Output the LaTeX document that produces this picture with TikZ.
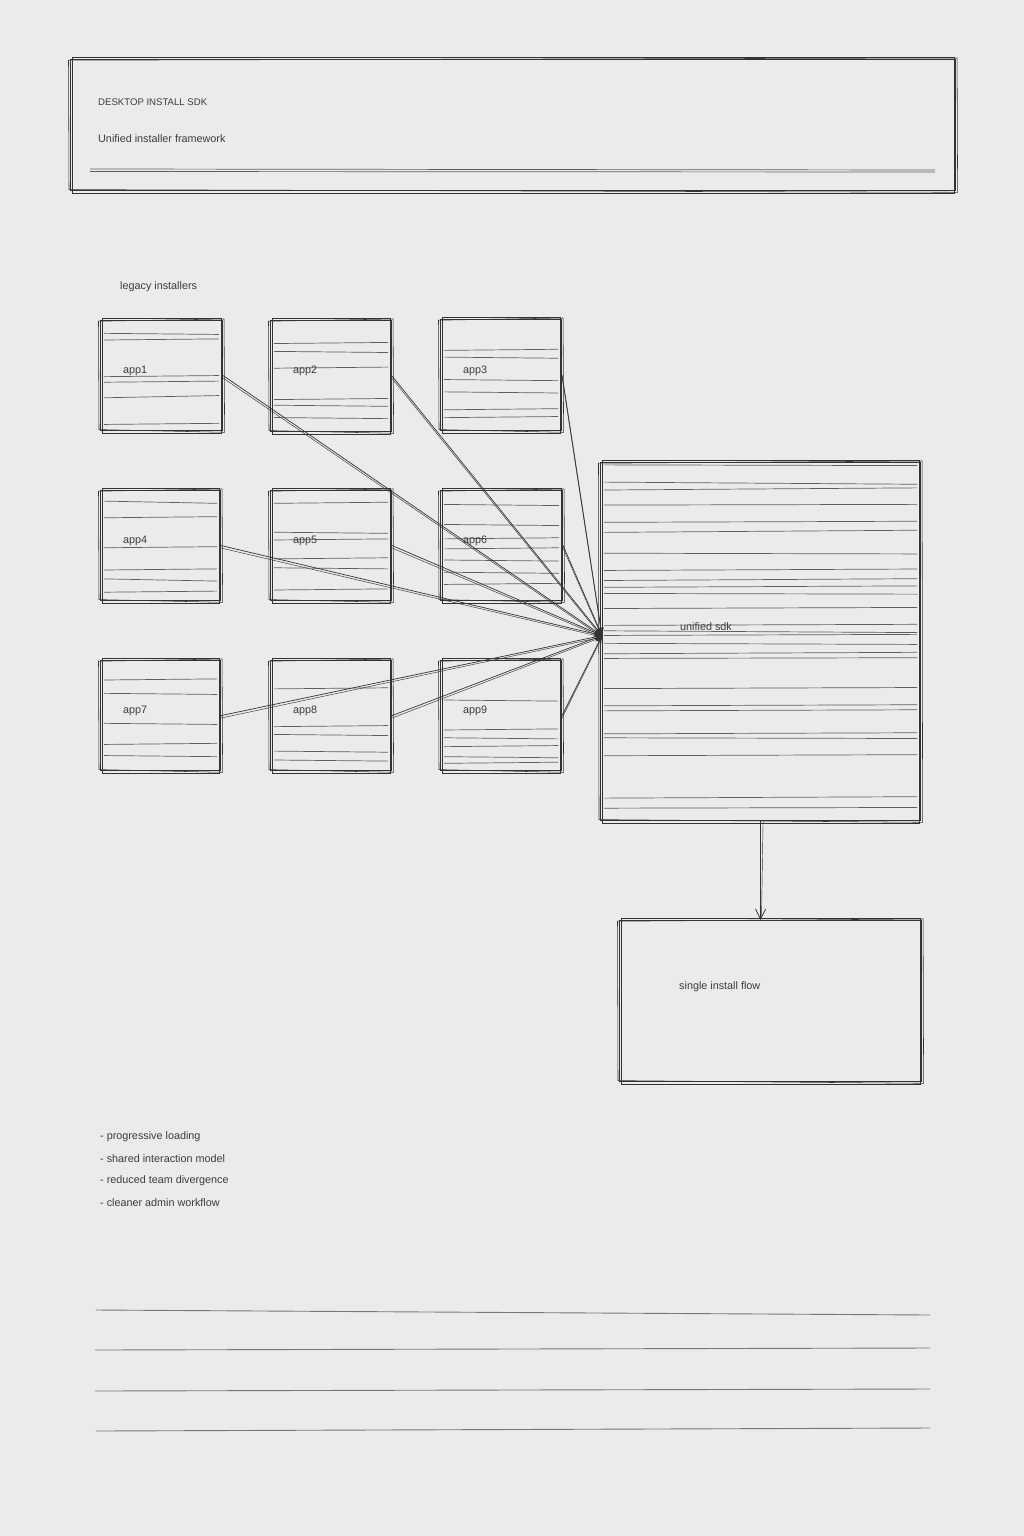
\documentclass[tikz,border=0pt]{standalone}
\usepackage{fontspec}
\setmainfont{Liberation Sans}
\usetikzlibrary{calc,arrows.meta}
\definecolor{bg}{HTML}{EBEBEB}
\definecolor{ink}{HTML}{333333}
\definecolor{hat}{HTML}{5E5E5E}
\definecolor{txt}{HTML}{3C3C3C}
\definecolor{rule}{HTML}{777777}
\tikzset{
  skbox/.style={draw=ink, line width=1.1pt, inner sep=0pt, anchor=north west},
  sktwo/.style={draw=ink, line width=0.55pt},
  hatch/.style={draw=hat, line width=0.7pt},
  lbl/.style={font=\fontsize{10.8}{12}\selectfont, text=txt, anchor=west, inner sep=0pt},
  ttl/.style={font=\fontsize{9.6}{11}\selectfont, text=txt, anchor=west, inner sep=0pt},
  conn/.style={draw=ink, line width=0.7pt, -{Stealth[length=8pt,width=6pt]}},
  connb/.style={draw=ink, line width=0.45pt},
  downarr/.style={draw=ink, line width=0.8pt, -{Straight Barb[length=10pt,width=10pt]}},
  rulel/.style={draw=rule, line width=0.9pt}
}
\newcommand{\skextra}[1]{%
  \draw[sktwo] ($(#1.north west)+(2,-1.5)$) rectangle ($(#1.south east)+(-2,2)$);
  \draw[sktwo] ($(#1.north west)+(-1.5,1.2)$) -- ($(#1.north east)+(1,-1)$) -- ($(#1.south east)+(1.5,1.2)$) -- ($(#1.south west)+(-1,-1.5)$) -- cycle;
}
\newcommand{\hatchlines}[2]{%
  \foreach \f/\g in {#2} {
    \draw[hatch] ($(#1.north west)!\f!(#1.south west)+(4,0)$) -- ($(#1.north east)!\g!(#1.south east)+(-4,0)$);
  }
}
\begin{document}
\begin{tikzpicture}[x=1pt,y=-1pt]
\fill[bg] (0,0) rectangle (1024,1536);
\useasboundingbox (0,0) rectangle (1024,1536);

% header
\node[skbox, minimum width=885, minimum height=131] (head) at (70,59) {};
\skextra{head}
\node[ttl] (title) at (98,102) {DESKTOP INSTALL SDK};
\node[lbl] (subtitle) at (98,139) {Unified installer framework};
\coordinate (hl1) at (90,169);
\coordinate (hr1) at (935,170);
\draw[hatch] (hl1) -- (hr1);
\draw[hatch] ($(hl1)+(0,2.5)$) -- ($(hr1)+(0,2)$);

\node[lbl] (legacy) at (120,287) {legacy installers};

% app boxes
\node[skbox, minimum width=122, minimum height=110] (app1) at (100,320) {};
\node[skbox, minimum width=121, minimum height=111] (app2) at (270,320) {};
\node[skbox, minimum width=121, minimum height=111] (app3) at (440,319) {};
\node[skbox, minimum width=120, minimum height=110] (app4) at (100,490) {};
\node[skbox, minimum width=121, minimum height=110] (app5) at (270,490) {};
\node[skbox, minimum width=122, minimum height=110] (app6) at (440,490) {};
\node[skbox, minimum width=120, minimum height=110] (app7) at (100,660) {};
\node[skbox, minimum width=121, minimum height=110] (app8) at (270,660) {};
\node[skbox, minimum width=121, minimum height=110] (app9) at (440,660) {};
\foreach \n in {app1,app2,app3,app4,app5,app6,app7,app8,app9} {\skextra{\n}}

\hatchlines{app1}{0.12/0.13, 0.18/0.17, 0.51/0.50, 0.56/0.55, 0.70/0.68, 0.94/0.93}
\hatchlines{app2}{0.21/0.20, 0.28/0.29, 0.43/0.42, 0.71/0.70, 0.76/0.77, 0.87/0.88}
\hatchlines{app3}{0.28/0.27, 0.34/0.35, 0.54/0.55, 0.65/0.66, 0.81/0.80, 0.88/0.87}
\hatchlines{app4}{0.10/0.12, 0.25/0.24, 0.52/0.51, 0.72/0.71, 0.80/0.82, 0.92/0.91}
\hatchlines{app5}{0.12/0.11, 0.38/0.39, 0.45/0.44, 0.62/0.61, 0.70/0.71, 0.90/0.89}
\hatchlines{app6}{0.13/0.14, 0.31/0.32, 0.44/0.43, 0.53/0.52, 0.63/0.64, 0.74/0.75, 0.85/0.84}
\hatchlines{app7}{0.18/0.17, 0.30/0.31, 0.57/0.58, 0.76/0.75, 0.86/0.87}
\hatchlines{app8}{0.26/0.25, 0.60/0.59, 0.67/0.68, 0.82/0.83, 0.90/0.91}
\hatchlines{app9}{0.36/0.37, 0.63/0.62, 0.70/0.71, 0.78/0.77, 0.87/0.88, 0.93/0.92}

\node[lbl] (l1) at (123,371) {app1};
\node[lbl] (l2) at (293,371) {app2};
\node[lbl] (l3) at (463,371) {app3};
\node[lbl] (l4) at (123,541) {app4};
\node[lbl] (l5) at (293,541) {app5};
\node[lbl] (l6) at (463,541) {app6};
\node[lbl] (l7) at (123,711) {app7};
\node[lbl] (l8) at (293,711) {app8};
\node[lbl] (l9) at (463,711) {app9};

% unified sdk
\node[skbox, minimum width=320, minimum height=358] (sdk) at (600,462) {};
\skextra{sdk}
\hatchlines{sdk}{0.008/0.010, 0.056/0.062, 0.078/0.072, 0.12/0.118, 0.168/0.165, 0.196/0.19, 0.254/0.256, 0.302/0.298, 0.330/0.325, 0.349/0.345, 0.366/0.368, 0.408/0.405, 0.455/0.452, 0.470/0.475, 0.483/0.480, 0.505/0.508, 0.534/0.530, 0.547/0.545, 0.631/0.628, 0.679/0.676, 0.693/0.690, 0.757/0.754, 0.768/0.770, 0.818/0.815, 0.936/0.932, 0.964/0.962}
\node[lbl] (sdkl) at (680,627) {unified sdk};

% single install flow
\node[skbox, minimum width=302, minimum height=161] (flow) at (619,920) {};
\skextra{flow}
\node[lbl] (flowl) at (679,987) {single install flow};

% connectors
\coordinate (tgt) at ($(sdk.west)+(2,-6)$);
\foreach \a in {app1,app2,app3,app4,app5,app6,app7,app8,app9} {
  \draw[conn] (\a.east) -- (tgt);
  \draw[connb] ($(\a.east)+(0,2.5)$) -- ($(tgt)+(0,1.5)$);
}
\draw[downarr] (sdk.south) -- (sdk.south |- flow.north);
\draw[connb] ($(sdk.south)+(2.5,0)$) -- ($(sdk.south |- flow.north)+(1,-4)$);

% notes
\node[lbl] (n1) at (100,1137) {- progressive loading};
\node[lbl] (n2) at (100,1159) {- shared interaction model};
\node[lbl] (n3) at (100,1181) {- reduced team divergence};
\node[lbl] (n4) at (100,1203) {- cleaner admin workflow};

% bottom rules
\draw[rulel] (96,1310) -- (930,1315);
\draw[rulel] (95,1350) -- (930,1348);
\draw[rulel] (95,1391) -- (930,1389);
\draw[rulel] (96,1431) -- (930,1428);
\end{tikzpicture}
\end{document}
